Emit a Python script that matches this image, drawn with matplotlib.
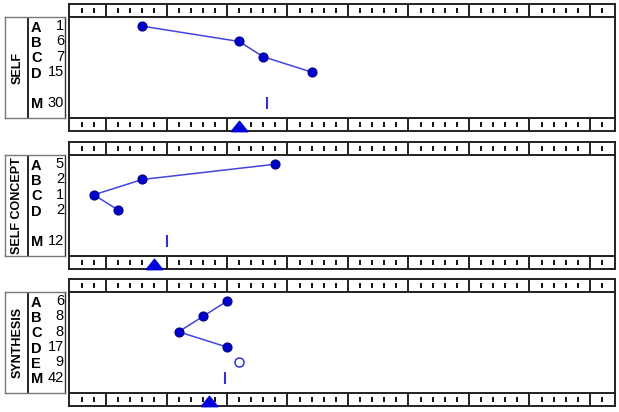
import numpy as np
import matplotlib
matplotlib.use("Agg")
import matplotlib.pyplot as plt
from matplotlib.path import Path

plt.rcParams['font.family'] = ['Liberation Sans', 'DejaVu Sans']

# ---- data ----
titles = ["SELF", "SELF CONCEPT", "SYNTHESIS"]

self_rows = ["A", "B", "C", "D"]
self_counts = [1, 6, 7, 15]
self_x = [3, 11, 13, 17]
self_m_count = 30
self_mean = 13.3
self_marker = 11

concept_rows = ["A", "B", "C", "D"]
concept_counts = [5, 2, 1, 2]
concept_x = [14, 3, -1, 1]
concept_m_count = 12
concept_mean = 5
concept_marker = 4

syn_rows = ["A", "B", "C", "D"]
syn_counts = [6, 8, 8, 17]
syn_x = [10, 8, 6, 10]
syn_extra_row = "E"
syn_extra_count = 9
syn_extra_x = 11
syn_m_count = 42
syn_mean = 9.8
syn_marker = 8.5

W, H = 619, 412
XMIN, XMAX = -3.06, 42.07
LINE_C = '#4444E0'
DOT_C = '#0000CC'


def rect(x0, top, w, h):
    """pixel box (from top-left) -> figure fraction"""
    return [x0 / W, (H - top - h) / H, w / W, h / H]


def strip(fig, top, tri=None):
    ax = fig.add_axes(rect(69, top, 546, 13))
    ax.set_xlim(XMIN, XMAX)
    ax.set_ylim(0, 1)
    ax.set_xticks([])
    ax.set_yticks([])
    for s in ax.spines.values():
        s.set_color('#222222')
        s.set_linewidth(1.4)
    minor = [v for v in np.arange(-2, 42) if v % 5 != 0]
    ax.vlines(minor, 0.28, 0.72, color='black', lw=1.3)
    ax.vlines(np.arange(0, 41, 5), 0, 1, color='#222222', lw=1.4)
    if tri is not None:
        tri_path = Path([(-8, -5), (8, -5), (0, 5), (-8, -5)])
        ax.plot([tri], [0.36], marker=tri_path, ms=12, color='#0000DD',
                mec='#0000DD', ls='none', clip_on=False, zorder=5)
    return ax


def panel(fig, top, title, rows, counts, xs, m_count, mean, tri,
          extra=None):
    h = 101
    strip(fig, top - 13)
    strip(fig, top + h, tri)

    ax = fig.add_axes(rect(69, top, 546, h))
    ax.set_xlim(XMIN, XMAX)
    ax.set_ylim(6.0, -0.6)
    ax.set_xticks([])
    ax.set_yticks([])
    for s in ax.spines.values():
        s.set_color('#222222')
        s.set_linewidth(1.4)
    idx = np.arange(len(xs))
    ax.plot(xs, idx, color=LINE_C, lw=1.1, zorder=2)
    ax.plot(xs, idx, 'o', ms=6.5, mfc=DOT_C, mec='#00008B', mew=0.8,
            zorder=3)
    if extra is not None:
        ax.plot([extra[2]], [len(xs)], 'o', ms=6.5, mfc='white',
                mec='#3333DD', mew=1.1, zorder=3)
    ax.plot([mean], [5], marker='|', ms=8, mew=1.5, color='#3333CC')

    # label box
    lb = fig.add_axes(rect(5, top, 60, h))
    lb.set_xlim(0, 60)
    lb.set_ylim(6.0, -0.6)
    lb.set_xticks([])
    lb.set_yticks([])
    for s in lb.spines.values():
        s.set_color('#777777')
        s.set_linewidth(1)
    lb.spines['right'].set_color('#333333')
    lb.axvline(23, color='black', lw=1.2)
    lb.text(12.5, 2.7, title, rotation=90, ha='center', va='center',
            fontsize=9, fontweight='bold')
    labels = list(rows)
    nums = list(counts)
    if extra is not None:
        labels.append(extra[0])
        nums.append(extra[1])
    for i, (lab, n) in enumerate(zip(labels, nums)):
        lb.text(26, i + 0.1, lab, ha='left', va='center', fontsize=10.5,
                fontweight='bold')
        lb.text(59, i, str(n), ha='right', va='center', fontsize=10.5)
    lb.text(26, 5.1, "M", ha='left', va='center', fontsize=10.5,
            fontweight='bold')
    lb.text(59, 5, str(m_count), ha='right', va='center', fontsize=10.5)


fig = plt.figure(figsize=(W / 100, H / 100), dpi=100)
panel(fig, 17, titles[0], self_rows, self_counts, self_x, self_m_count,
      self_mean, self_marker)
panel(fig, 155, titles[1], concept_rows, concept_counts, concept_x,
      concept_m_count, concept_mean, concept_marker)
panel(fig, 292, titles[2], syn_rows, syn_counts, syn_x, syn_m_count,
      syn_mean, syn_marker,
      extra=(syn_extra_row, syn_extra_count, syn_extra_x))

fig.savefig("out.png", dpi=100)
